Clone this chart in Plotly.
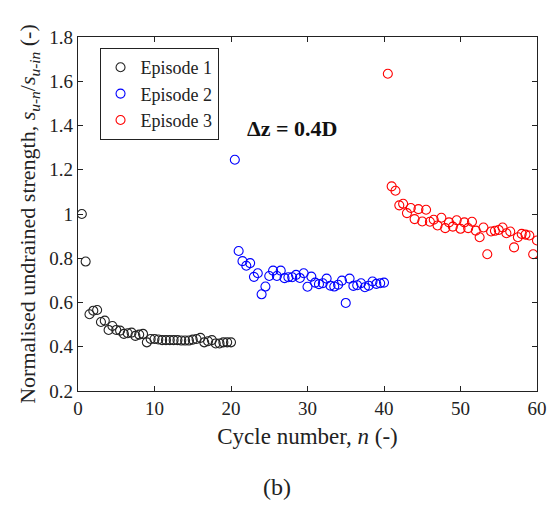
import plotly.graph_objects as go

# Episode 1: cycles 0.5..20
ep1_n = [0.5 * (i + 1) for i in range(40)]
ep1_v = [1.00, 0.785, 0.547, 0.563, 0.566, 0.512, 0.518, 0.476, 0.494, 0.476,
         0.473, 0.458, 0.461, 0.464, 0.449, 0.455, 0.458, 0.420, 0.435, 0.435,
         0.433, 0.430, 0.430, 0.430, 0.430, 0.430, 0.428, 0.428, 0.428, 0.432,
         0.435, 0.440, 0.420, 0.425, 0.430, 0.415, 0.415, 0.420, 0.420, 0.420]

# Episode 2: cycles 20.5..40
ep2_n = [20 + 0.5 * (i + 1) for i in range(40)]
ep2_v = [1.245, 0.833, 0.787, 0.766, 0.778, 0.716, 0.732, 0.637, 0.672, 0.720,
         0.744, 0.720, 0.744, 0.710, 0.714, 0.714, 0.725, 0.711, 0.732, 0.671,
         0.717, 0.690, 0.683, 0.687, 0.708, 0.676, 0.672, 0.680, 0.699, 0.598,
         0.708, 0.675, 0.678, 0.687, 0.669, 0.676, 0.695, 0.684, 0.687, 0.690]

# Episode 3: cycles 40.5..60
ep3_n = [40 + 0.5 * (i + 1) for i in range(40)]
ep3_v = [1.634, 1.125, 1.105, 1.039, 1.046, 1.004, 1.027, 0.977, 1.022, 0.966,
         1.019, 0.965, 0.974, 0.948, 0.983, 0.936, 0.962, 0.943, 0.972, 0.933,
         0.962, 0.936, 0.965, 0.925, 0.895, 0.939, 0.818, 0.921, 0.924, 0.928,
         0.939, 0.913, 0.921, 0.849, 0.895, 0.910, 0.907, 0.903, 0.818, 0.880]

series = [("Episode 1", ep1_n, ep1_v, "#222222"),
          ("Episode 2", ep2_n, ep2_v, "#0000FF"),
          ("Episode 3", ep3_n, ep3_v, "#FF0000")]

font_family = "Liberation Serif, Times New Roman, serif"

L, R, T, B = 78, 11, 37, 119
W, H = 558, 510
pw = W - L - R
ph = H - T - B

fig = go.Figure()
for name, n, v, col in series:
    fig.add_trace(go.Scatter(
        x=n, y=v, mode="markers", name=name,
        marker=dict(symbol="circle-open", size=9, color=col, line=dict(width=1.1, color=col)),
    ))

fig.update_layout(
    width=W, height=H,
    margin=dict(l=L, r=R, t=T, b=B),
    paper_bgcolor="white", plot_bgcolor="white",
    font=dict(family=font_family, size=18, color="#222222"),
    showlegend=True,
    legend=dict(x=(100 - L) / pw, y=(T + ph - 48) / ph, xanchor="left", yanchor="top",
                bordercolor="#222222", borderwidth=1, bgcolor="white",
                font=dict(size=18, family=font_family), itemwidth=30,
                tracegroupgap=0),
    annotations=[
        dict(text="<b>Δz = 0.4D</b>", x=(297 - L) / pw, y=(T + ph - 128) / ph,
             xref="paper", yref="paper", showarrow=False, yanchor="middle",
             font=dict(size=22, family=font_family, color="#111111")),
        dict(text="(b)", x=(281 - L) / pw, y=(T + ph - 487) / ph,
             xref="paper", yref="paper", showarrow=False, yanchor="middle",
             font=dict(size=24, family=font_family)),
    ],
)

fig.update_xaxes(
    range=[0, 60], dtick=10, ticks="inside", ticklen=5, tickcolor="#222222",
    showline=True, linecolor="#222222", linewidth=1.2, mirror="allticks",
    showgrid=False, zeroline=False, ticklabeloverflow="allow",
    tickfont=dict(size=19),
    title=dict(text="Cycle number, <i>n</i> (-)", font=dict(size=23), standoff=9),
)
fig.update_yaxes(
    range=[0.2, 1.8], dtick=0.2, ticks="inside", ticklen=5, tickcolor="#222222",
    showline=True, linecolor="#222222", linewidth=1.2, mirror="allticks",
    showgrid=False, zeroline=False,
    tickfont=dict(size=19),
    title=dict(text="Normalised undrained strength, <i>s</i><sub><i>u-n</i></sub>/<i>s</i><sub><i>u-in</i></sub> (-)",
               font=dict(size=22), standoff=7),
)

fig.write_html("out.html")
